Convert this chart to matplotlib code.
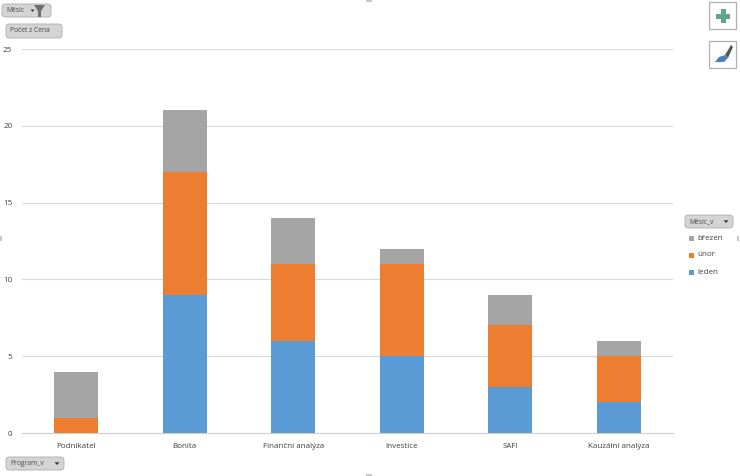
import matplotlib
matplotlib.use("Agg")
import matplotlib.pyplot as plt
from matplotlib.patches import FancyBboxPatch, Polygon, Rectangle
from matplotlib.transforms import IdentityTransform

plt.rcParams['font.family'] = ['Open Sans', 'DejaVu Sans']

categories = ["Podnikatel", "Bonita", "Finanční analýza", "Investice", "SAFI", "Kauzální analýza"]
leden = [0, 9, 6, 5, 3, 2]
unor = [1, 8, 5, 6, 4, 3]
brezen = [3, 4, 3, 1, 2, 1]
yticks = [0, 5, 10, 15, 20, 25]
legend_labels = ["březen", "únor", "leden"]

BLUE, ORANGE, GRAY = "#5B9BD5", "#ED7D31", "#A5A5A5"
TXT = "#404040"
W, H = 740, 476

fig = plt.figure(figsize=(W / 100, H / 100), dpi=100, facecolor="white")
ax = fig.add_axes([22 / W, 1 - 433 / H, 651 / W, 384 / H])

x = list(range(len(categories)))
bw = 0.405
ax.bar(x, leden, bw, color=BLUE, zorder=3)
ax.bar(x, unor, bw, bottom=leden, color=ORANGE, zorder=3)
bottom2 = [a + b for a, b in zip(leden, unor)]
ax.bar(x, brezen, bw, bottom=bottom2, color=GRAY, zorder=3)

ax.set_xlim(-0.5, len(categories) - 0.5)
ax.set_ylim(0, 25)
ax.set_yticks(yticks)
ax.set_xticks(x)
ax.set_xticklabels(categories)
ax.tick_params(length=0, labelsize=5.8, colors=TXT)
ax.tick_params(axis="y", pad=7)
ax.tick_params(axis="x", pad=7)
ax.yaxis.grid(True, color="#DADADA", lw=0.8, zorder=0)
ax.set_axisbelow(True)
for s in ["top", "right", "left"]:
    ax.spines[s].set_visible(False)
ax.spines["bottom"].set_color("#D0D0D0")
ax.spines["bottom"].set_linewidth(0.8)


def px(xp, yp):
    return xp / W, 1 - yp / H


def pts(seq):
    return [px(a, b) for a, b in seq]


def button(x0, y0, x1, y1, label, arrow=False):
    p = FancyBboxPatch((x0, H - y1), x1 - x0, y1 - y0,
                       boxstyle="round,pad=0,rounding_size=3.5",
                       fc="#D4D4D4", ec="#B5B5B5", lw=0.7)
    p.set_transform(IdentityTransform())
    fig.add_artist(p)
    fig.text(*px(x0 + 4, (y0 + y1) / 2), label, fontsize=4.9, color="#484848", va="center", ha="left")
    if arrow:
        ax_ = x1 - 7
        cy = (y0 + y1) / 2
        fig.add_artist(Polygon(pts([(ax_ - 2.5, cy - 1.2), (ax_ + 2.5, cy - 1.2), (ax_, cy + 1.5)]),
                               closed=True, fc="#333333", ec="none", transform=fig.transFigure))


button(2, 4, 51, 17, "Měsíc", False)
fig.add_artist(Polygon(pts([(30.5, 9.5), (34.5, 9.5), (32.5, 12)]), closed=True, fc="#333333", ec="none", transform=fig.transFigure))
fig.add_artist(Polygon(pts([(34, 5), (45, 5), (41, 11), (41, 17), (38, 17), (38, 11)]), closed=True,
                       fc="#6E6E6E", ec="none", transform=fig.transFigure))
button(6, 24, 62, 38, "Počet z Cena")
button(6, 457, 64, 470, "Program_v", True)
button(685, 215, 733, 228, "Měsíc_v", True)

# legend
for (lab, col, yy) in zip(legend_labels, [GRAY, ORANGE, BLUE], [238, 255, 272]):
    fig.add_artist(Rectangle(px(689, yy + 2.5), 5 / W, 5 / H, fc=col, ec="none", transform=fig.transFigure))
    fig.text(*px(697, yy), lab, fontsize=5.8, color=TXT, va="center", ha="left")

# side buttons
for y0 in (2, 41):
    fig.add_artist(Rectangle(px(709, y0 + 27), 27 / W, 27 / H, fc="white", ec="#B0B0B0", lw=0.9, transform=fig.transFigure))
cx, cy = 723, 16
fig.add_artist(Rectangle(px(cx - 7, cy + 2.5), 14 / W, 5 / H, fc="#5FA58A", ec="none", transform=fig.transFigure))
fig.add_artist(Rectangle(px(cx - 2.5, cy + 7), 5 / W, 14 / H, fc="#5FA58A", ec="none", transform=fig.transFigure))
fig.add_artist(Polygon(pts([(725, 55), (731, 45), (733, 47), (728, 58)]), closed=True, fc="#555555", ec="none", transform=fig.transFigure))
fig.add_artist(Polygon(pts([(715, 62), (719, 57), (725, 55), (728, 58), (724, 62)]), closed=True, fc="#4F7DBD", ec="none", transform=fig.transFigure))

# frame handles
for (a, b, c, d) in [(366, 0, 6, 2), (366, 474, 6, 2), (0, 236, 2, 5), (737, 236, 2, 5)]:
    fig.add_artist(Rectangle(px(a, b + d), c / W, d / H, fc="#C8C8C8", ec="none", transform=fig.transFigure))

fig.savefig("out.png", dpi=100, facecolor="white")
